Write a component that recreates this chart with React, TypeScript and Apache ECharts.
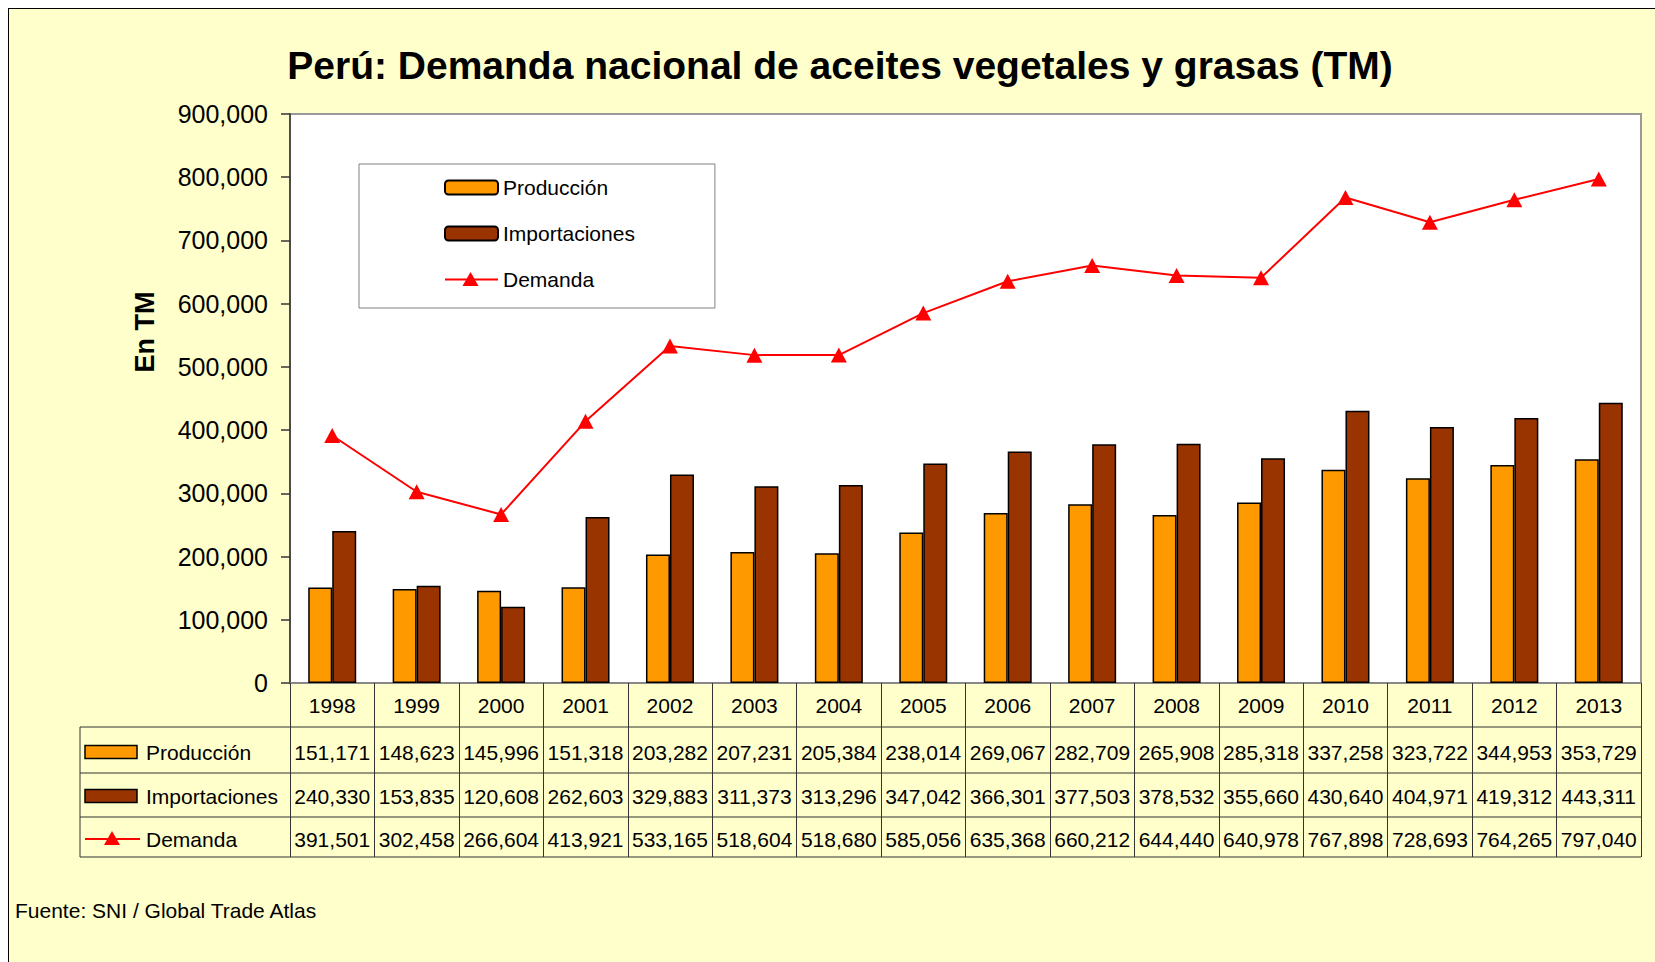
import React, { useEffect, useRef } from "react";
import * as echarts from "echarts";

const years = ["1998","1999","2000","2001","2002","2003","2004","2005","2006","2007","2008","2009","2010","2011","2012","2013"];
const produccion = [151171,148623,145996,151318,203282,207231,205384,238014,269067,282709,265908,285318,337258,323722,344953,353729];
const importaciones = [240330,153835,120608,262603,329883,311373,313296,347042,366301,377503,378532,355660,430640,404971,419312,443311];
const demanda = [391501,302458,266604,413921,533165,518604,518680,585056,635368,660212,644440,640978,767898,728693,764265,797040];
const yTicks = { min: 0, max: 900000, interval: 100000 };

const FONT = "'Liberation Sans', Arial, sans-serif";
const W = 1655, H = 962;
const GRID = { left: 290, top: 114, right: 1641, bottom: 683 };
const TABLE = { left: 80, lines: [727, 773, 817, 857], textY: [752, 796, 839] };
const COL_ORANGE = "#FF9900";
const COL_BROWN = "#993300";
const COL_RED = "#FF0000";
const fmt = (v: number) => v.toLocaleString("en-US");

export default function App() {
  const ref = useRef<HTMLDivElement>(null);
  useEffect(() => {
    if (!ref.current) return;
    const chart = echarts.init(ref.current, null, { renderer: "svg", width: W, height: H });
    chart.setOption({
      animation: false,
      backgroundColor: "transparent",
      textStyle: { fontFamily: FONT },
      title: {
        text: "Perú: Demanda nacional de aceites vegetales y grasas (TM)",
        left: 840, top: 45, textAlign: "center", padding: 0,
        textStyle: { fontSize: 39, fontWeight: "bold", color: "#000", fontFamily: FONT, lineHeight: 40 },
      },
      legend: {
        orient: "vertical", left: 359, top: 164,
        padding: [13, 80, 18, 85], itemGap: 25, itemWidth: 53, itemHeight: 14,
        backgroundColor: "#fff", borderColor: "#808080", borderWidth: 1, borderRadius: 0,
        itemTextGap: 11,
        textStyle: { fontSize: 21, color: "#000", fontFamily: FONT },
        data: ["Producción", "Importaciones", "Demanda"],
      },
      grid: {
        left: GRID.left, top: GRID.top, width: GRID.right - GRID.left, height: GRID.bottom - GRID.top,
        show: true, backgroundColor: "#fff", borderColor: "#999", borderWidth: 2,
      },
      xAxis: {
        type: "category", data: years, boundaryGap: true,
        axisLine: { lineStyle: { color: "#888", width: 2 } },
        axisTick: { show: true, length: TABLE.lines[3] - GRID.bottom, lineStyle: { color: "#333", width: 1 } },
        axisLabel: { fontSize: 21, color: "#000", margin: 22, verticalAlign: "middle", fontFamily: FONT },
      },
      yAxis: {
        type: "value", min: yTicks.min, max: yTicks.max, interval: yTicks.interval,
        splitLine: { show: false },
        axisLine: { show: true, lineStyle: { color: "#333", width: 1.5 } },
        axisTick: { show: true, length: 9, lineStyle: { color: "#333", width: 1.5 } },
        axisLabel: { fontSize: 25, color: "#000", margin: 22, formatter: (v: number) => fmt(v), fontFamily: FONT },
      },
      series: [
        { name: "Producción", type: "bar", data: produccion, barWidth: 24, barGap: "0%",
          itemStyle: { color: COL_ORANGE, borderColor: "#000", borderWidth: 1.5 } },
        { name: "Importaciones", type: "bar", data: importaciones, barWidth: 24, barGap: "0%",
          itemStyle: { color: COL_BROWN, borderColor: "#000", borderWidth: 1.5 } },
        { name: "Demanda", type: "line", data: demanda, symbol: "triangle", symbolSize: [16, 15],
          lineStyle: { color: COL_RED, width: 2 }, itemStyle: { color: COL_RED }, z: 5 },
      ],
    });

    const xs = years.map((_, i) => chart.convertToPixel({ xAxisIndex: 0 }, i) as number);
    const rows = [produccion, importaciones, demanda];
    const labels = ["Producción", "Importaciones", "Demanda"];
    const g: any[] = [];
    TABLE.lines.forEach((y) => {
      g.push({ type: "line", shape: { x1: TABLE.left, y1: y, x2: GRID.right, y2: y }, style: { stroke: "#333", lineWidth: 1 } });
    });
    g.push({ type: "line", shape: { x1: TABLE.left, y1: TABLE.lines[0], x2: TABLE.left, y2: TABLE.lines[3] }, style: { stroke: "#333", lineWidth: 1 } });
    rows.forEach((row, r) => {
      const y = TABLE.textY[r];
      row.forEach((v, i) => {
        g.push({ type: "text", x: xs[i], y, style: { text: fmt(v), fontSize: 21, fill: "#000", align: "center", verticalAlign: "middle", fontFamily: FONT } });
      });
      g.push({ type: "text", x: 146, y, style: { text: labels[r], fontSize: 21, fill: "#000", align: "left", verticalAlign: "middle", fontFamily: FONT } });
      if (r < 2) {
        g.push({ type: "rect", shape: { x: 85, y: y - 6.5, width: 52, height: 13 }, style: { fill: r === 0 ? COL_ORANGE : COL_BROWN, stroke: "#000", lineWidth: 1.5 } });
      } else {
        g.push({ type: "line", shape: { x1: 85, y1: y, x2: 140, y2: y }, style: { stroke: COL_RED, lineWidth: 2 } });
        g.push({ type: "polygon", shape: { points: [[112, y - 8], [104, y + 6], [120, y + 6]] }, style: { fill: COL_RED } });
      }
    });
    // larger triangle glyph in the legend's Demanda key
    g.push({ type: "polygon", z: 100, shape: { points: [[470.5, 272], [462.5, 286], [478.5, 286]] }, style: { fill: COL_RED } });
    g.push({ type: "text", x: 145, y: 332, rotation: Math.PI / 2, style: { text: "En TM", fontSize: 27, fontWeight: "bold", fill: "#000", align: "center", verticalAlign: "middle", fontFamily: FONT } });
    g.push({ type: "text", x: 15, y: 910, style: { text: "Fuente: SNI / Global Trade Atlas", fontSize: 21, fill: "#000", align: "left", verticalAlign: "middle", fontFamily: FONT } });
    chart.setOption({ graphic: g });
    return () => chart.dispose();
  }, []);
  return (
    <div style={{ position: "fixed", left: 0, top: 0, width: W, height: H, background: "#fff", overflow: "hidden" }}>
      <div style={{ position: "absolute", left: 8, top: 8, width: 1800, height: 1100, background: "#FFFFCC", borderLeft: "1px solid #000", borderTop: "1px solid #000" }} />
      <div ref={ref} style={{ position: "absolute", left: 0, top: 0, width: W, height: H }} />
    </div>
  );
}
